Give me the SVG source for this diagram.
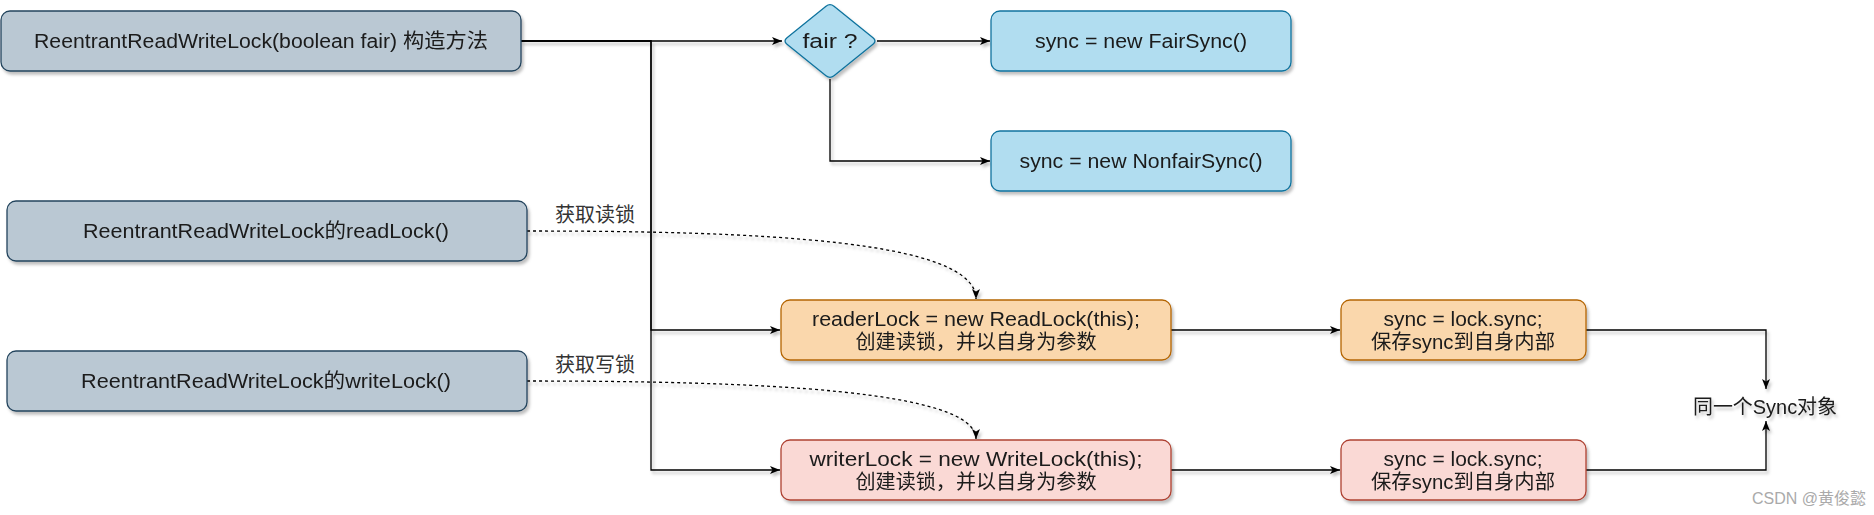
<svg xmlns="http://www.w3.org/2000/svg" width="1874" height="515" viewBox="0 0 1874 515">
<defs>
<style>
.g{fill:#bac8d3;stroke:#23445d;stroke-width:1.3}
.bl{fill:#b1ddf0;stroke:#10739e;stroke-width:1.3}
.or{fill:#fad7ac;stroke:#b46504;stroke-width:1.3}
.rd{fill:#fad9d5;stroke:#ae4132;stroke-width:1.3}
text{font-family:"Liberation Sans","Noto Sans CJK SC",sans-serif;font-size:20px;fill:#1a1a1a;text-anchor:middle;dominant-baseline:central}
.lbl{fill:#333}
.wm{font-size:16px;fill:#aaa}
.e{fill:none;stroke:#000;stroke-width:1.3}
.d{stroke-dasharray:3 3}
</style>
<filter id="sh" x="-10%" y="-10%" width="130%" height="150%">
<feDropShadow dx="2" dy="3" stdDeviation="1.5" flood-color="#000" flood-opacity="0.25"/>
</filter>
<marker id="a" viewBox="0 0 10 8" refX="10" refY="4" markerWidth="11" markerHeight="8" markerUnits="userSpaceOnUse" orient="auto">
<path d="M0,0 L10,4 L0,8 L2.5,4 Z" fill="#000"/>
</marker>
</defs>

<g id="connectors" filter="url(#sh)">
<path class="e" d="M521,41 H782" marker-end="url(#a)"/>
<path class="e" d="M521,41 H651 V330 H780" marker-end="url(#a)"/>
<path class="e" d="M521,41 H651 V470 H780" marker-end="url(#a)"/>
<path class="e" d="M877,41 H990" marker-end="url(#a)"/>
<path class="e" d="M830,79 V161 H990" marker-end="url(#a)"/>
<path class="e d" d="M527,231 C760,231 976,240 976,299" marker-end="url(#a)"/>
<path class="e d" d="M527,381 C760,381 976,390 976,439" marker-end="url(#a)"/>
<path class="e" d="M1171,330 H1340" marker-end="url(#a)"/>
<path class="e" d="M1171,470 H1340" marker-end="url(#a)"/>
<path class="e" d="M1586,330 H1766 V389" marker-end="url(#a)"/>
<path class="e" d="M1586,470 H1766 V421" marker-end="url(#a)"/>
</g>

<g id="ctor" filter="url(#sh)">
<rect class="g" x="1" y="11" width="520" height="60" rx="9"/>
<text x="261" y="41" textLength="454" lengthAdjust="spacingAndGlyphs">ReentrantReadWriteLock(boolean fair) 构造方法</text>
</g>
<g id="fair" filter="url(#sh)">
<path class="bl" d="M787,37.8 L826,6.2 Q830,3 834,6.2 L873,37.8 Q877,41 873,44.2 L834,75.8 Q830,79 826,75.8 L787,44.2 Q783,41 787,37.8 Z"/>
<text x="830" y="41" textLength="55" lengthAdjust="spacingAndGlyphs">fair ?</text>
</g>
<g id="fairsync" filter="url(#sh)">
<rect class="bl" x="991" y="11" width="300" height="60" rx="9"/>
<text x="1141" y="41" textLength="212" lengthAdjust="spacingAndGlyphs">sync = new FairSync()</text>
</g>
<g id="nonfairsync" filter="url(#sh)">
<rect class="bl" x="991" y="131" width="300" height="60" rx="9"/>
<text x="1141" y="161" textLength="243" lengthAdjust="spacingAndGlyphs">sync = new NonfairSync()</text>
</g>
<g id="readlock" filter="url(#sh)">
<rect class="g" x="7" y="201" width="520" height="60" rx="9"/>
<text x="266" y="231" textLength="366" lengthAdjust="spacingAndGlyphs">ReentrantReadWriteLock的readLock()</text>
</g>
<g id="writelock" filter="url(#sh)">
<rect class="g" x="7" y="351" width="520" height="60" rx="9"/>
<text x="266" y="381" textLength="370" lengthAdjust="spacingAndGlyphs">ReentrantReadWriteLock的writeLock()</text>
</g>
<g id="readerlock" filter="url(#sh)">
<rect class="or" x="781" y="300" width="390" height="60" rx="9"/>
<text x="976" y="319" textLength="328" lengthAdjust="spacingAndGlyphs">readerLock = new ReadLock(this);</text>
<text x="976" y="342" textLength="241" lengthAdjust="spacingAndGlyphs">创建读锁，并以自身为参数</text>
</g>
<g id="writerlock" filter="url(#sh)">
<rect class="rd" x="781" y="440" width="390" height="60" rx="9"/>
<text x="976" y="459" textLength="333" lengthAdjust="spacingAndGlyphs">writerLock = new WriteLock(this);</text>
<text x="976" y="482" textLength="241" lengthAdjust="spacingAndGlyphs">创建读锁，并以自身为参数</text>
</g>
<g id="sync1" filter="url(#sh)">
<rect class="or" x="1341" y="300" width="245" height="60" rx="9"/>
<text x="1463" y="319" textLength="159" lengthAdjust="spacingAndGlyphs">sync = lock.sync;</text>
<text x="1463" y="342" textLength="184" lengthAdjust="spacingAndGlyphs">保存sync到自身内部</text>
</g>
<g id="sync2" filter="url(#sh)">
<rect class="rd" x="1341" y="440" width="245" height="60" rx="9"/>
<text x="1463" y="459" textLength="159" lengthAdjust="spacingAndGlyphs">sync = lock.sync;</text>
<text x="1463" y="482" textLength="184" lengthAdjust="spacingAndGlyphs">保存sync到自身内部</text>
</g>

<g id="labels">
<text class="lbl" x="595" y="215">获取读锁</text>
<text class="lbl" x="595" y="365">获取写锁</text>
<text x="1765" y="407" textLength="144" lengthAdjust="spacingAndGlyphs" filter="url(#sh)">同一个Sync对象</text>
<text class="wm" x="1809" y="498">CSDN @黄俊懿</text>
</g>
</svg>
